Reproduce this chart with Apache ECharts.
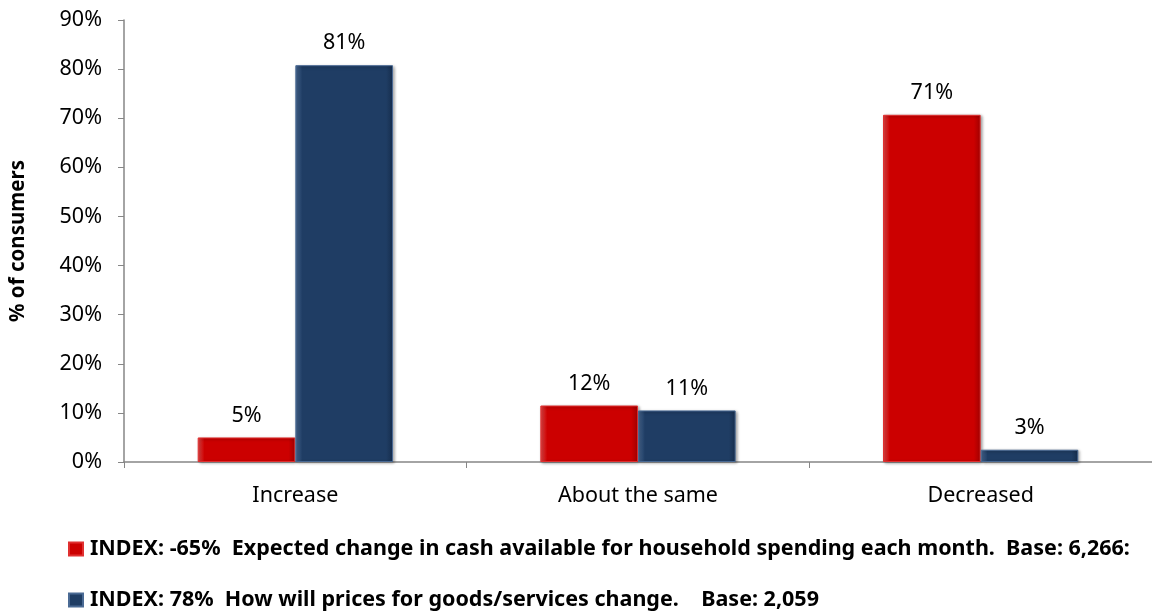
<!DOCTYPE html>
<html><head><meta charset="utf-8">
<script src="https://cdn.jsdelivr.net/npm/echarts@6/dist/echarts.min.js"></script>
<style>html,body{margin:0;padding:0;background:#fff}#c{width:1152px;height:614px}</style>
</head><body><div id="c"></div>
<script>
var categories = ['Increase', 'About the same', 'Decreased'];
var seriesNames = [
  'INDEX: -65%  Expected change in cash available for household spending each month.  Base: 6,266:',
  'INDEX: 78%  How will prices for goods/services change.    Base: 2,059'
];
var cashValues = [5, 11.5, 70.7];
var priceValues = [80.8, 10.5, 2.5];
var yTicks = [0, 10, 20, 30, 40, 50, 60, 70, 80, 90];

var FONT = '"Noto Sans", "Open Sans", sans-serif';
function grad(light, main, dark) {
  return new echarts.graphic.LinearGradient(0, 0, 1, 0, [
    {offset: 0, color: light}, {offset: 0.07, color: main},
    {offset: 0.93, color: main}, {offset: 1, color: dark}
  ]);
}
var chart = echarts.init(document.getElementById('c'));
chart.setOption({
  animation: false,
  grid: {left: 122, right: 0, top: 20, bottom: 152, containLabel: false},
  legend: {
    orient: 'vertical', left: 68, top: 538, itemGap: 29,
    itemWidth: 14, itemHeight: 13, icon: 'rect', padding: 0,
    textStyle: {fontFamily: FONT, fontWeight: 'bold', fontSize: 21.5, lineHeight: 22, color: '#000', padding: [0, 0, 0, 2]},
    data: seriesNames
  },
  xAxis: {
    type: 'category', data: categories,
    axisLine: {lineStyle: {color: '#868686', width: 1.5}},
    axisTick: {show: true, length: 6, lineStyle: {color: '#868686'}},
    axisLabel: {fontFamily: FONT, fontSize: 21.5, color: '#000', margin: 23}
  },
  yAxis: {
    type: 'value', min: yTicks[0], max: yTicks[yTicks.length - 1], interval: 10,
    name: '% of consumers', nameLocation: 'middle', nameGap: 95,
    nameTextStyle: {fontFamily: FONT, fontWeight: 'bold', fontSize: 20.5, color: '#000'},
    axisLine: {show: true, lineStyle: {color: '#868686', width: 1.5}},
    axisTick: {show: true, length: 6, lineStyle: {color: '#868686'}},
    splitLine: {show: false},
    axisLabel: {fontFamily: FONT, fontSize: 21.5, color: '#000', margin: 22,
      formatter: function (v) { return v + '%'; }}
  },
  series: [
    {
      name: seriesNames[0], type: 'bar', data: cashValues,
      barGap: '0%', barCategoryGap: '43%',
      itemStyle: {color: grad('#e84a4a', '#CC0000', '#a00000'), borderColor: '#e03030', borderWidth: 1,
        shadowBlur: 3, shadowOffsetX: 1.5, shadowOffsetY: 1, shadowColor: 'rgba(0,0,0,0.35)'},
      label: {show: true, position: 'top', distance: 11, fontFamily: FONT, fontSize: 21.5, color: '#000',
        formatter: function (p) { return Math.round(p.value) + '%'; }}
    },
    {
      name: seriesNames[1], type: 'bar', data: priceValues,
      itemStyle: {color: grad('#4a6a94', '#1F3D64', '#162d4c'), borderColor: '#4a6a94', borderWidth: 1,
        shadowBlur: 3, shadowOffsetX: 1.5, shadowOffsetY: 1, shadowColor: 'rgba(0,0,0,0.35)'},
      label: {show: true, position: 'top', distance: 11, fontFamily: FONT, fontSize: 21.5, color: '#000',
        formatter: function (p) { return Math.round(p.value) + '%'; }}
    }
  ]
});
</script></body></html>
